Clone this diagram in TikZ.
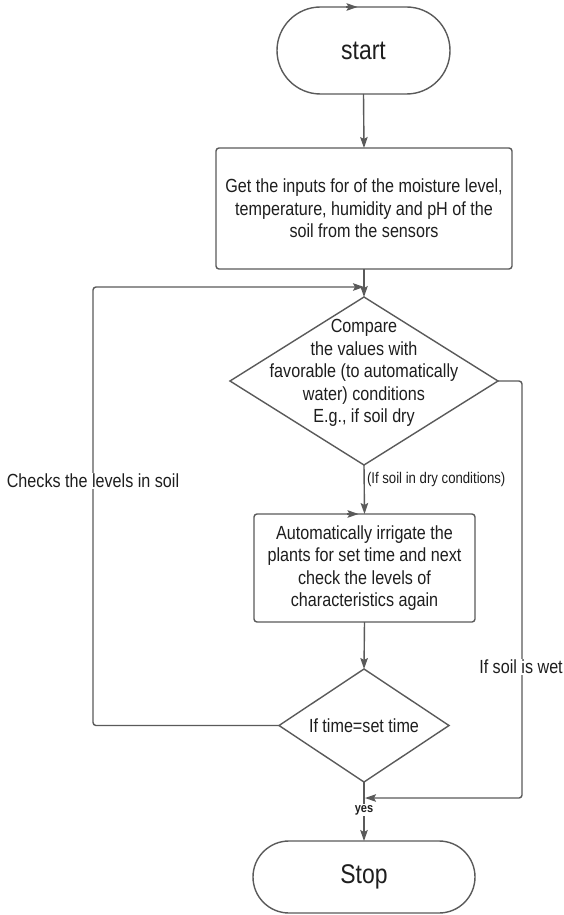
\documentclass[tikz,border=0pt]{standalone}
\usepackage{fontspec}
\setmainfont{Liberation Sans}[FakeStretch=0.85]
\usetikzlibrary{shapes.geometric,shapes.misc,arrows.meta}
\definecolor{ln}{HTML}{5A5A5A}
\definecolor{tx}{HTML}{1E1E1E}
\newcommand\mainfs{\fontsize{19}{22.6}\selectfont}
\newcommand\termfs{\fontsize{27}{30}\selectfont}
\begin{document}
\begin{tikzpicture}[x=1pt,y=-1pt,
  every node/.style={text=tx, inner sep=0pt, outer sep=0pt},
  shp/.style={draw=ln, line width=1.4pt, fill=white},
  termbox/.style={shp, rounded rectangle, font=\termfs},
  procbox/.style={shp, rectangle, rounded corners=3pt, align=center, font=\mainfs},
  decbox/.style={shp, diamond},
  line/.style={draw=ln, line width=1.4pt},
  tip/.style={-{Stealth[length=11pt,width=7.5pt,inset=2pt]}},
  arr/.style={line, rounded corners=3pt, tip},
  lbl/.style={font=\mainfs, fill=white, inner sep=1pt},
  txt/.style={font=\mainfs, align=center}
]
\useasboundingbox (0,0) rectangle (563,915);
\fill[white] (0,0) rectangle (563,915);

% shapes
\node[termbox, minimum width=173pt, minimum height=87pt] (start) at (363.5,50.5) {start};
\node[procbox, minimum width=296pt, minimum height=121pt] (inp) at (364,208.5)
  {Get the inputs for of the moisture level,\\temperature, humidity and pH of the\\soil from the sensors};
\node[decbox, minimum width=268pt, minimum height=168pt] (cmp) at (364,381) {};
\node[txt] (cmptxt) at (364,373)
  {Compare\\the values with\\favorable (to automatically\\water) conditions\\E.g., if soil dry};
\node[procbox, minimum width=221pt, minimum height=108pt] (irr) at (364.5,568)
  {Automatically irrigate the\\plants for set time and next\\check the levels of\\characteristics again};
\node[decbox, minimum width=170pt, minimum height=113pt] (tim) at (364,725.5) {};
\node[txt] (timtxt) at (364,726) {If time=set time};
\node[termbox, minimum width=222pt, minimum height=72pt] (stop) at (364,877) {Stop};

% junction coordinates
\coordinate (j1) at (364,287);
\coordinate (lx) at (93,287);
\coordinate (j2) at (365,798);
\coordinate (rx) at (522,798);

% main flow
\draw[arr] (start.south) -- (inp.north);
\draw[arr] (inp.south) -- (cmp.north);
\draw[arr] (cmp.south) -- (irr.north);
\draw[arr] (irr.south) -- (tim.north);
\draw[arr] (tim.south) -- (stop.north);

% loops
\draw[arr] (tim.west) -| (lx) -- (j1);
\draw[arr] (cmp.east) -| (rx) -- (j2);

% labels
\node[lbl] (lchk) at (93,481) {Checks the levels in soil};
\node[lbl] (lwet) at (521,667) {If soil is wet};
\node[font=\fontsize{15.5}{18}\selectfont, anchor=west] (ldry) at (367,479) {(If soil in dry conditions)};
\node[font=\fontsize{13}{15}\selectfont\bfseries, fill=white, inner sep=1.5pt] (lyes) at (364,810) {yes};

% small arrow marks on borders
\draw[line, tip] ([xshift=-18pt]start.north) -- ([xshift=-6pt]start.north);
\draw[line, tip] ([xshift=-18pt]irr.north) -- ([xshift=-6pt]irr.north);
\end{tikzpicture}
\end{document}
